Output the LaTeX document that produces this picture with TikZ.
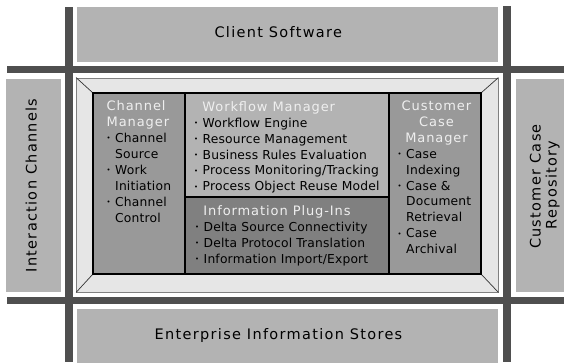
\documentclass[tikz,border=0pt]{standalone}
\usepackage{fontspec}
\usepackage{graphicx}
\usetikzlibrary{fit}
\setmainfont{DejaVu Sans}
\newfontfamily\bigfont{DejaVu Sans}[LetterSpace=9]
\newfontfamily\hdfont{DejaVu Sans}[LetterSpace=7]
\newfontfamily\bodyfont{DejaVu Sans}[LetterSpace=1.5]

\definecolor{barc}{HTML}{4F4F4F}
\definecolor{panelc}{HTML}{B3B3B3}
\definecolor{bevelc}{HTML}{E6E6E6}
\definecolor{framec}{HTML}{808080}
\definecolor{cmc}{HTML}{999999}
\definecolor{wfc}{HTML}{B3B3B3}
\definecolor{ipc}{HTML}{808080}
\definecolor{ccmc}{HTML}{999999}
\definecolor{headc}{HTML}{EFEFEF}

% bullet width and helpers for list lines
\newlength\bw
\setlength\bw{8.5pt}
\newcommand\hd{\hdfont\fontsize{13}{15.9}\selectfont\color{headc}}
\newcommand\bul[1]{\makebox[\bw][l]{\raisebox{1.7pt}{\scalebox{0.55}{•}}}#1}
\newcommand\ind[1]{\hspace*{\bw}#1}

\begin{document}
\begin{tikzpicture}[x=1pt,y=-1pt,
  bar/.style={fill=barc,draw=none,inner sep=0pt},
  panel/.style={fill=panelc,draw=none,inner sep=0pt},
  cell/.style={draw=black,line width=1.3pt,inner sep=0pt},
  big/.style={inner sep=0pt,font=\bigfont\fontsize{14.5}{17}\selectfont,text=black},
  line/.style={inner sep=0pt,anchor=base west,font=\bodyfont\fontsize{12.3}{15.9}\selectfont,text=black},
  head/.style={inner sep=0pt,font=\hd},
  diag/.style={draw=black!80,line width=0.7pt}]
\useasboundingbox (0,0) rectangle (564,362);

% separator bars
\node[bar,fit={(6.5,66)(564,73)}] (bar-top) {};
\node[bar,fit={(6.5,297)(564,304)}] (bar-bottom) {};
\node[bar,fit={(65,6.5)(73,362)}] (bar-left) {};
\node[bar,fit={(503,6)(511,362)}] (bar-right) {};

% surrounding panels
\node[panel,fit={(77,7)(498,62)}] (client) {};
\node[panel,fit={(77,309)(498,366)}] (stores) {};
\node[panel,fit={(6,79)(61,292)}] (channels) {};
\node[panel,fit={(516,79)(571,292)}] (repo) {};

\node[big,anchor=base] (client-t) at (278.3,37.5) {Client Software};
\node[big,anchor=base] (stores-t) at (278.5,339.3) {Enterprise Information Stores};
\node[big,anchor=base,rotate=90] (channels-t) at (36.7,185.5) {Interaction Channels};
\node[big,anchor=base,rotate=90] (repo-a) at (540.7,186.5) {Customer Case};
\node[big,anchor=base,rotate=90] (repo-b) at (556.7,185) {Repository};

% bevelled frame
\node[fill=bevelc,draw=framec,line width=0.8pt,inner sep=0pt,fit={(76.5,78)(498,292)}] (frame) {};
\node[inner sep=0pt,fit={(93,93)(481,274)}] (core) {};
\draw[diag] (frame.north west) -- (core.north west);
\draw[diag] (frame.north east) -- (core.north east);
\draw[diag] (frame.south west) -- (core.south west);
\draw[diag] (frame.south east) -- (core.south east);

% component cells
\node[cell,fill=cmc,fit={(93,93)(185,274)}] (chanmgr) {};
\node[cell,fill=wfc,fit={(185,93)(389,197)}] (wfmgr) {};
\node[cell,fill=ipc,fit={(185,197)(389,274)}] (infoplug) {};
\node[cell,fill=ccmc,fit={(389,93)(481,274)}] (custmgr) {};

% Channel Manager
\foreach \t [count=\i from 0] in {{\hd Channel},{\hd Manager},\bul{Channel},\ind{Source},\bul{Work},\ind{Initiation},\bul{Channel},\ind{Control}}
  \node[line] (cm-\i) at (106.5,{110.8+15.9*\i}) {\t};

% Workflow Manager
\node[head,anchor=base west] (wf-h) at (202.2,111.2) {Workflow Manager};
\foreach \t [count=\i from 0] in {Workflow Engine,Resource Management,Business Rules Evaluation,Process Monitoring/Tracking,Process Object Reuse Model}
  \node[line] (wf-\i) at (194,{127.2+15.9*\i}) {\bul{\t}};

% Information Plug-Ins
\node[head,anchor=base west] (ip-h) at (203.2,215.7) {Information Plug-Ins};
\foreach \t [count=\i from 0] in {Delta Source Connectivity,Delta Protocol Translation,Information Import/Export}
  \node[line] (ip-\i) at (195,{231.4+16*\i}) {\bul{\t}};

% Customer Case Manager
\foreach \t [count=\i from 0] in {Customer,Case,Manager}
  \node[head,anchor=base] (ccm-h\i) at (436.5,{110.5+15.9*\i}) {\t};
\foreach \t [count=\i from 0] in {\bul{Case},\ind{Indexing},\bul{Case \&},\ind{Document},\ind{Retrieval},\bul{Case},\ind{Archival}}
  \node[line] (ccm-\i) at (397.5,{158.2+15.9*\i}) {\t};
\end{tikzpicture}
\end{document}
